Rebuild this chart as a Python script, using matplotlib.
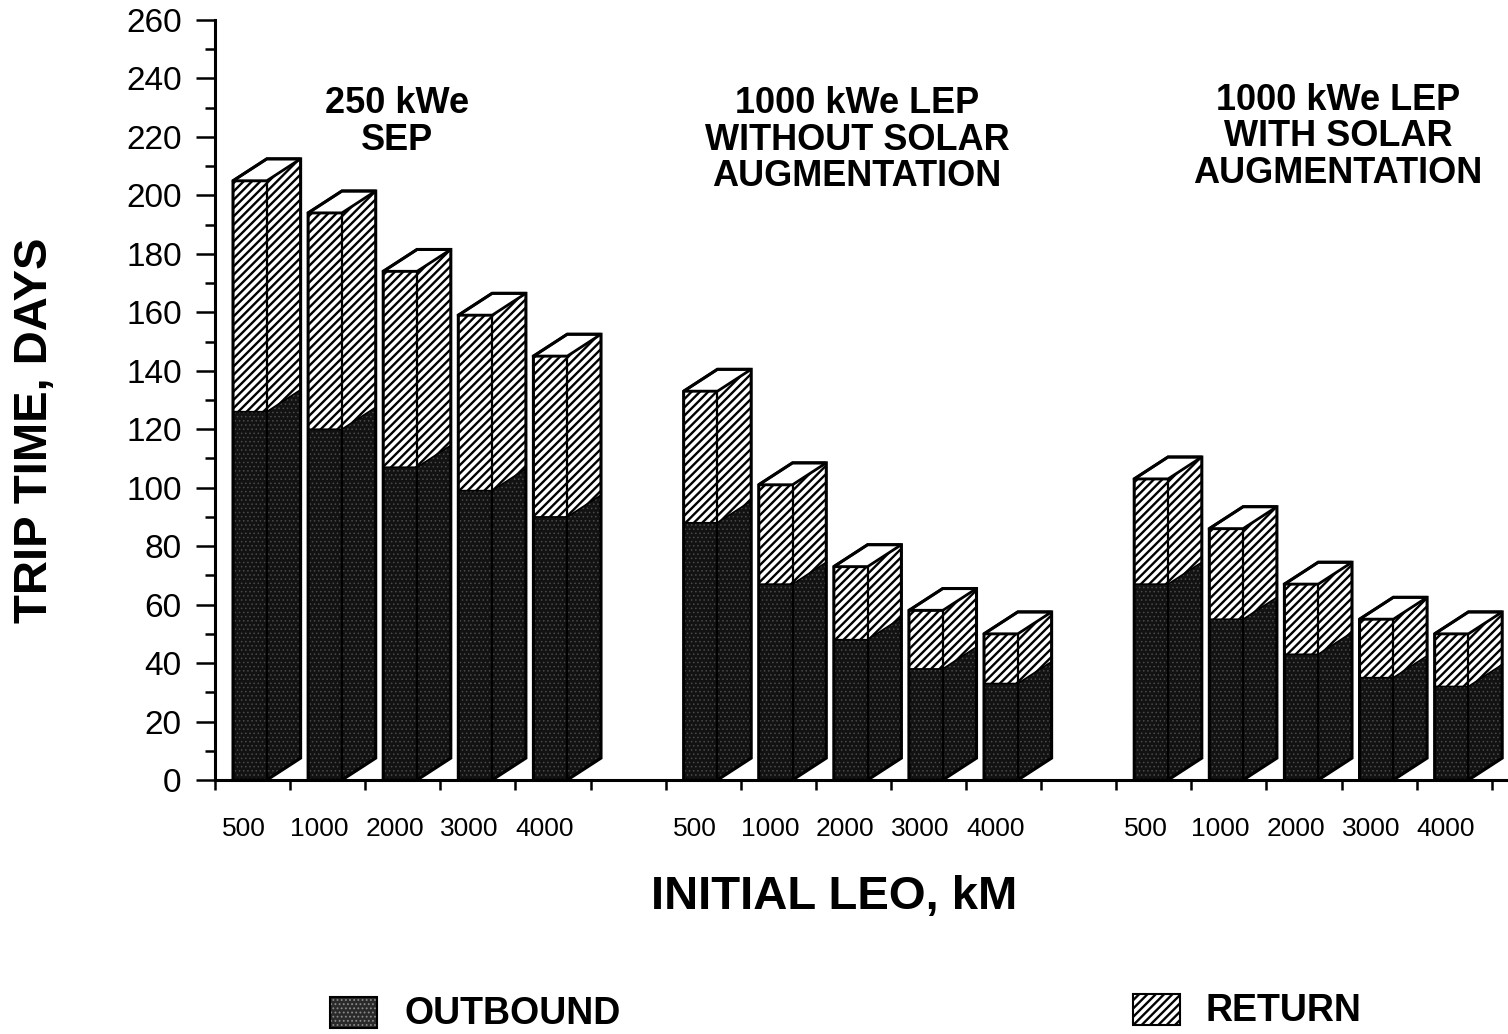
import matplotlib
matplotlib.use("Agg")
import matplotlib.pyplot as plt
from matplotlib.patches import Polygon, Rectangle

# ---------------- data ----------------
group_titles = ["250 kWe\nSEP",
                "1000 kWe LEP\nWITHOUT SOLAR\nAUGMENTATION",
                "1000 kWe LEP\nWITH SOLAR\nAUGMENTATION"]
leo_labels = ["500", "1000", "2000", "3000", "4000"]

sep_outbound = [126, 120, 107, 99, 90]
sep_return = [79, 74, 67, 60, 55]
lep_wo_outbound = [88, 67, 48, 38, 33]
lep_wo_return = [45, 34, 25, 20, 17]
lep_w_outbound = [67, 55, 43, 35, 32]
lep_w_return = [36, 31, 24, 20, 18]

y_major = list(range(0, 261, 20))
y_minor = list(range(0, 261, 10))

series = [(sep_outbound, sep_return),
          (lep_wo_outbound, lep_wo_return),
          (lep_w_outbound, lep_w_return)]

# ---------------- layout ----------------
W, H = 1508, 1034
DPI = 100
plt.rcParams["font.family"] = ["Liberation Sans", "DejaVu Sans"]
plt.rcParams["hatch.linewidth"] = 1.7

fig = plt.figure(figsize=(W / DPI, H / DPI), dpi=DPI)
fig.patch.set_facecolor("white")

slot_px = 75.1
x_left, y_base, y_top = 215, 780, 20
ax = fig.add_axes([x_left / W, (H - y_base) / H, (W - x_left) / W, (y_base - y_top) / H])
ax.set_xlim(0, (W - x_left) / slot_px)
ax.set_ylim(0, 260)
ax.patch.set_alpha(0)

for s in ["top", "right"]:
    ax.spines[s].set_visible(False)
for s in ["left", "bottom"]:
    ax.spines[s].set_linewidth(2.2)

ax.set_yticks(y_major)
ax.set_yticks(y_minor, minor=True)
ax.set_yticklabels([str(v) for v in y_major])
ax.tick_params(axis="y", which="major", length=14, width=1.8, pad=10, labelsize=24)
ax.tick_params(axis="y", which="minor", length=7, width=1.8)

# x: ticks at slot boundaries, labels under bars
n_slots = 18
ax.set_xticks(list(range(n_slots)))
ax.set_xticklabels([""] * n_slots)
label_pos = []
label_txt = []
for g in range(3):
    for j in range(5):
        label_pos.append(6 * g + j + 0.39)
        label_txt.append(leo_labels[j])
ax.set_xticks(label_pos, minor=True)
ax.set_xticklabels(label_txt, minor=True)
ax.tick_params(axis="x", which="major", length=7, width=1.8, direction="out")
ax.tick_params(axis="x", which="minor", length=0, pad=27, labelsize=19)

# ---------------- bars ----------------
off, w, dx = 0.24, 0.45, 0.45
dy = 7.5
dark = "#121212"
dot_col = "#4a4a4a"


def dark_patch(p):
    p.set_facecolor(dark)
    p.set_edgecolor(dot_col)
    p.set_linewidth(0)
    p.set_hatch("....")
    return p


def ret_patch(p):
    p.set_facecolor("white")
    p.set_edgecolor("black")
    p.set_linewidth(0)
    p.set_hatch("////")
    return p


for g, (outs, rets) in enumerate(series):
    for j in range(5):
        o = outs[j]
        t = outs[j] + rets[j]
        x0 = 6 * g + j + off
        xr = x0 + w
        with plt.rc_context({"hatch.linewidth": 0.6}):
            ax.add_patch(dark_patch(Rectangle((x0, 0), w, o)))
            ax.add_patch(dark_patch(Polygon([(xr, 0), (xr + dx, dy), (xr + dx, o + dy), (xr, o)])))
        ax.add_patch(ret_patch(Rectangle((x0, o), w, t - o)))
        ax.add_patch(ret_patch(Polygon([(xr, o), (xr + dx, o + dy), (xr + dx, t + dy), (xr, t)])))
        ax.add_patch(Polygon([(x0, t), (xr, t), (xr + dx, t + dy), (x0 + dx, t + dy)],
                             facecolor="white", edgecolor="black", linewidth=2))
        # outlines
        ax.add_patch(Polygon([(x0, 0), (xr, 0), (xr + dx, dy), (xr + dx, t + dy),
                              (x0 + dx, t + dy), (x0, t)], fill=False, edgecolor="black",
                             linewidth=2.2, joinstyle="miter"))
        ax.plot([x0, xr, xr], [t, t, 0], color="black", linewidth=1.6)
        ax.plot([x0, xr, xr + dx], [o, o, o + dy], color="black", linewidth=1.2)

# ---------------- titles / labels ----------------
title_pos = [(397, 122), (857, 140), (1338, 137)]
for (px, py), txt in zip(title_pos, group_titles):
    fig.text(px / W, 1 - py / H, txt, ha="center", va="center", fontsize=26,
             fontweight="bold", linespacing=1.05)

fig.text(35 / W, 1 - 430 / H, "TRIP TIME, DAYS", rotation=90, ha="center", va="center",
         fontsize=34, fontweight="bold")
fig.text(834 / W, 1 - 897 / H, "INITIAL LEO, kM", ha="center", va="center",
         fontsize=34, fontweight="bold")

# ---------------- legend ----------------
with plt.rc_context({"hatch.linewidth": 0.8}):
    fig.patches.append(Rectangle((330 / W, 1 - 1028 / H), 47 / W, 31 / H,
                                 transform=fig.transFigure, facecolor="#2a2a2a",
                                 edgecolor="#8a8a8a", hatch="....", linewidth=0))
fig.patches.append(Rectangle((330 / W, 1 - 1028 / H), 47 / W, 31 / H,
                             transform=fig.transFigure, fill=False, edgecolor="black",
                             linewidth=1.5))
fig.patches.append(Rectangle((1133 / W, 1 - 1025 / H), 47 / W, 31 / H,
                             transform=fig.transFigure, facecolor="white",
                             edgecolor="black", hatch="////", linewidth=0))
fig.patches.append(Rectangle((1133 / W, 1 - 1025 / H), 47 / W, 31 / H,
                             transform=fig.transFigure, fill=False, edgecolor="black",
                             linewidth=1.5))
fig.text(405 / W, 1 - 1014 / H, "OUTBOUND", ha="left", va="center", fontsize=27,
         fontweight="bold")
fig.text(1205 / W, 1 - 1011 / H, "RETURN", ha="left", va="center", fontsize=27,
         fontweight="bold")

fig.savefig("out.png", dpi=DPI, facecolor="white")
